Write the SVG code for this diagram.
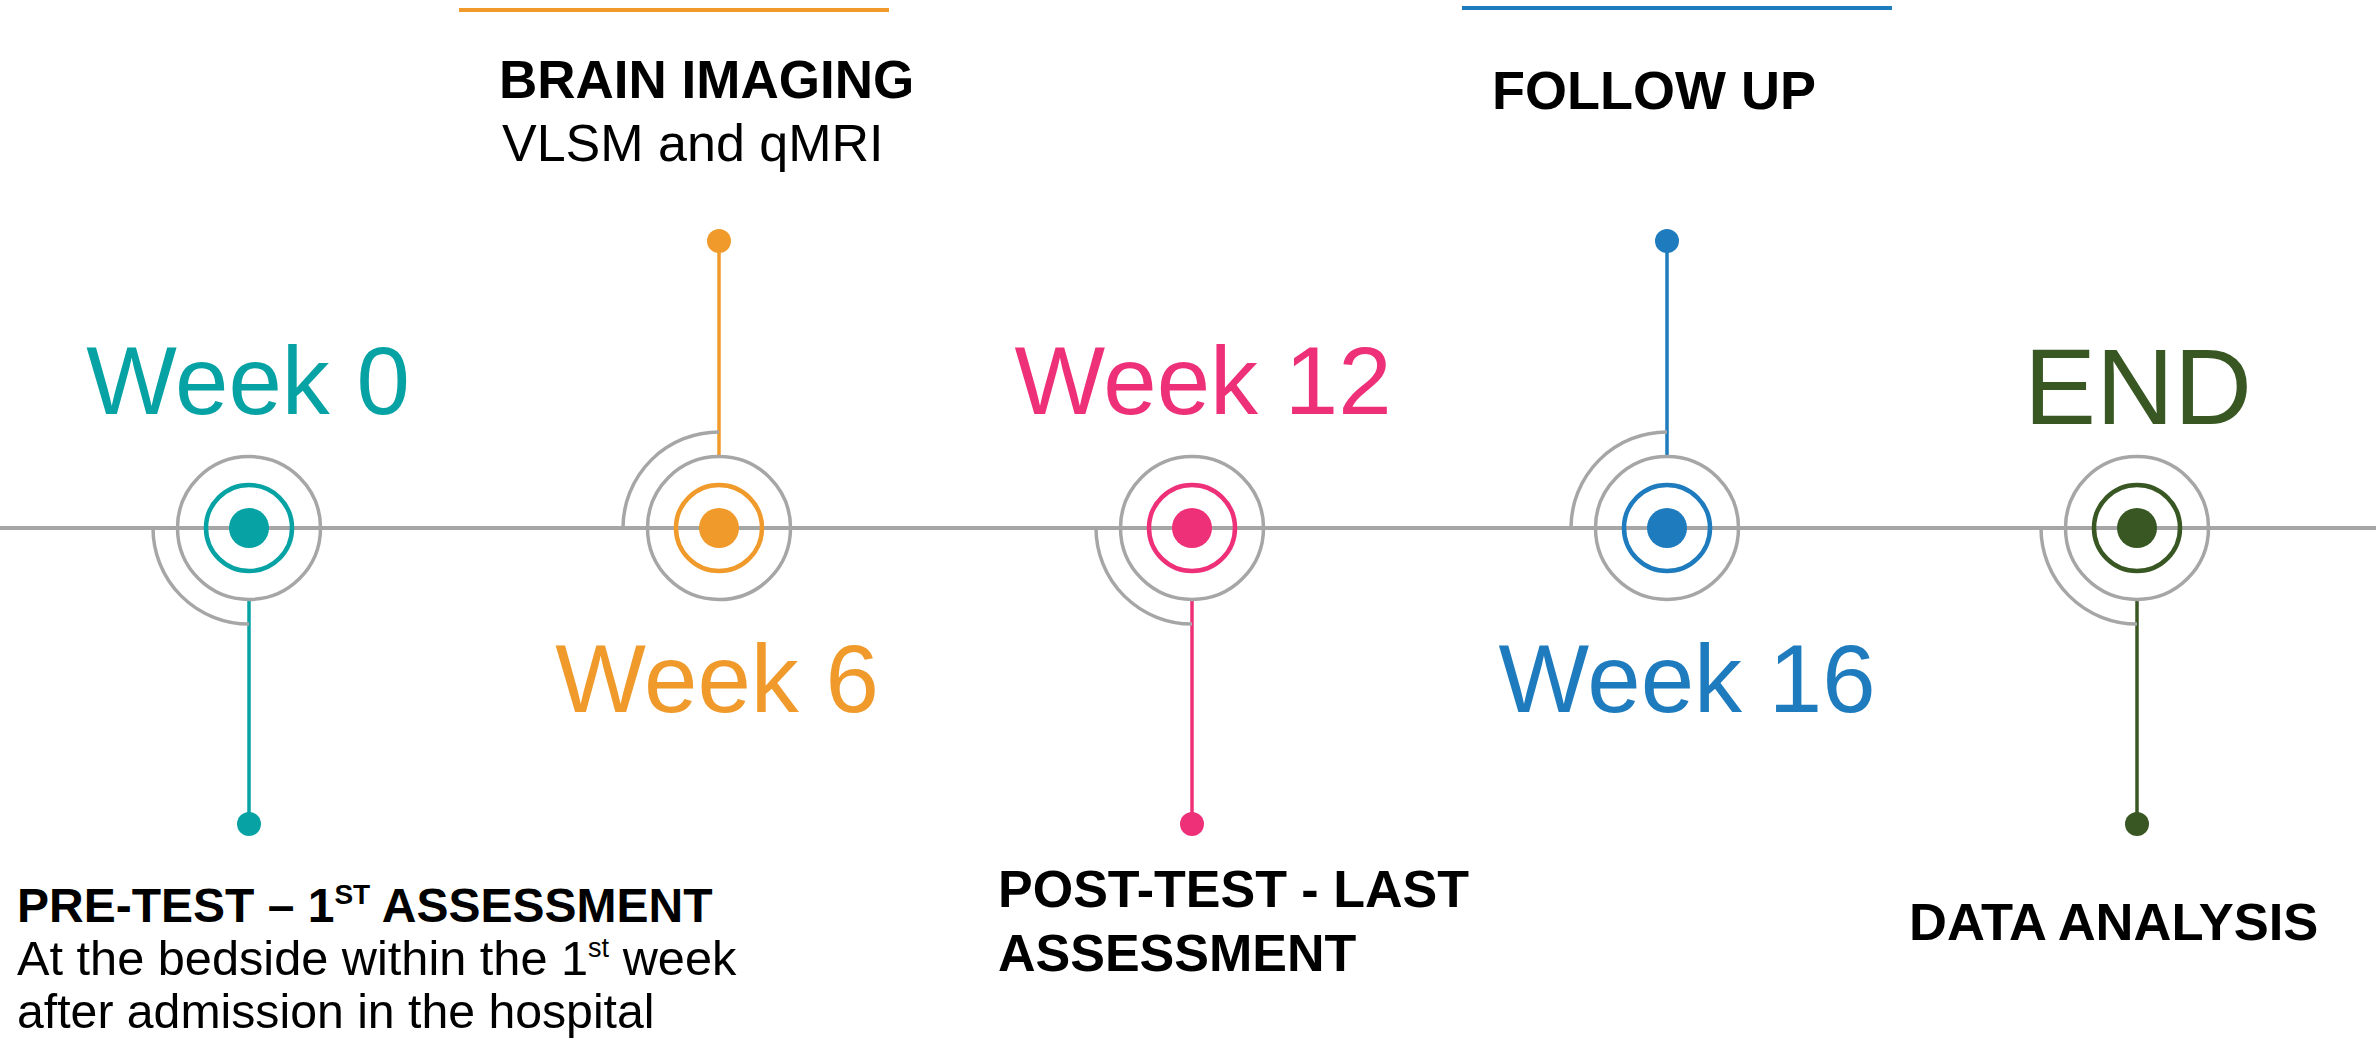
<svg xmlns="http://www.w3.org/2000/svg" width="2376" height="1046" viewBox="0 0 2376 1046">
  <style>
    .ring { fill: none; stroke: #A6A6A6; stroke-width: 3.5; }
    .arc { fill: none; stroke: #A6A6A6; stroke-width: 3.5; }
    .core { fill: none; stroke-width: 4.5; }
    .stem { stroke-width: 3.5; fill: none; }
    .week { font-family: "Liberation Sans", Arial, sans-serif; font-size: 96px; text-anchor: middle; }
    .head { font-family: "Liberation Sans", Arial, sans-serif; font-weight: bold; font-size: 52px; fill: #000; }
    .body { font-family: "Liberation Sans", Arial, sans-serif; font-size: 52px; fill: #000; }
    /* stroke colours for rings and stems */
    .s-teal { stroke: #07A2A4; }
    .s-orange { stroke: #EF9A2A; }
    .s-pink { stroke: #EE3079; }
    .s-blue { stroke: #1E7BBD; }
    .s-green { stroke: #385723; }
    /* fill colours for dots and week labels */
    .f-teal { fill: #07A2A4; }
    .f-orange { fill: #EF9A2A; }
    .f-pink { fill: #EE3079; }
    .f-blue { fill: #1E7BBD; }
    .f-green { fill: #385723; }
  </style>

  <rect width="2376" height="1046" fill="#FFFFFF"/>

  <!-- timeline axis and stems joining each milestone to its label -->
  <g id="connectors">
    <line x1="0" y1="528" x2="2376" y2="528" stroke="#A6A6A6" stroke-width="4"/>
    <line class="stem s-teal" x1="249" y1="600" x2="249" y2="824"/>
    <line class="stem s-orange" x1="719" y1="456" x2="719" y2="241"/>
    <line class="stem s-pink" x1="1192" y1="600" x2="1192" y2="824"/>
    <line class="stem s-blue" x1="1667" y1="456" x2="1667" y2="241"/>
    <line class="stem s-green" x1="2137" y1="600" x2="2137" y2="824"/>
  </g>

  <!-- Week 0 -->
  <g id="week0">
    <path class="arc" d="M153 528 A96 96 0 0 0 249 624"/>
    <circle class="ring" cx="249" cy="528" r="71.5"/>
    <circle class="core s-teal" cx="249" cy="528" r="43"/>
    <circle class="f-teal" cx="249" cy="528" r="20"/>
    <circle class="f-teal" cx="249" cy="824" r="12"/>
    <text class="week f-teal" x="248" y="414">Week 0</text>
    <text class="head" x="17" y="922" style="font-size:48px">PRE-TEST – 1<tspan dy="-18" style="font-size:28px">ST</tspan><tspan dy="18"> ASSESSMENT</tspan></text>
    <text class="body" x="17" y="975" style="font-size:48.7px">At the bedside within the 1<tspan dy="-18" style="font-size:27px">st</tspan><tspan dy="18"> week</tspan></text>
    <text class="body" x="17" y="1028" style="font-size:48.2px">after admission in the hospital</text>
  </g>

  <!-- Week 6 -->
  <g id="week6">
    <line x1="459" y1="10" x2="889" y2="10" stroke="#EF9A2A" stroke-width="4"/>
    <path class="arc" d="M623 528 A96 96 0 0 1 719 432"/>
    <circle class="ring" cx="719" cy="528" r="71.5"/>
    <circle class="core s-orange" cx="719" cy="528" r="43"/>
    <circle class="f-orange" cx="719" cy="528" r="20"/>
    <circle class="f-orange" cx="719" cy="241" r="12"/>
    <text class="week f-orange" x="717" y="712">Week 6</text>
    <text class="head" x="499" y="98" style="font-size:53px">BRAIN IMAGING</text>
    <text class="body" x="502" y="161">VLSM and qMRI</text>
  </g>

  <!-- Week 12 -->
  <g id="week12">
    <path class="arc" d="M1096 528 A96 96 0 0 0 1192 624"/>
    <circle class="ring" cx="1192" cy="528" r="71.5"/>
    <circle class="core s-pink" cx="1192" cy="528" r="43"/>
    <circle class="f-pink" cx="1192" cy="528" r="20"/>
    <circle class="f-pink" cx="1192" cy="824" r="12"/>
    <text class="week f-pink" x="1203" y="414">Week 12</text>
    <text class="head" x="998" y="907">POST-TEST - LAST</text>
    <text class="head" x="998" y="971">ASSESSMENT</text>
  </g>

  <!-- Week 16 -->
  <g id="week16">
    <line x1="1462" y1="8" x2="1892" y2="8" stroke="#1E7BBD" stroke-width="4"/>
    <path class="arc" d="M1571 528 A96 96 0 0 1 1667 432"/>
    <circle class="ring" cx="1667" cy="528" r="71.5"/>
    <circle class="core s-blue" cx="1667" cy="528" r="43"/>
    <circle class="f-blue" cx="1667" cy="528" r="20"/>
    <circle class="f-blue" cx="1667" cy="241" r="12"/>
    <text class="week f-blue" x="1687" y="712">Week 16</text>
    <text class="head" x="1492" y="109" style="font-size:54px">FOLLOW UP</text>
  </g>

  <!-- End -->
  <g id="end">
    <path class="arc" d="M2041 528 A96 96 0 0 0 2137 624"/>
    <circle class="ring" cx="2137" cy="528" r="71.5"/>
    <circle class="core s-green" cx="2137" cy="528" r="43"/>
    <circle class="f-green" cx="2137" cy="528" r="20"/>
    <circle class="f-green" cx="2137" cy="824" r="12"/>
    <text class="week f-green" x="2138" y="424" style="font-size:108px">END</text>
    <text class="head" x="1909" y="940" style="font-size:52.5px">DATA ANALYSIS</text>
  </g>
</svg>
